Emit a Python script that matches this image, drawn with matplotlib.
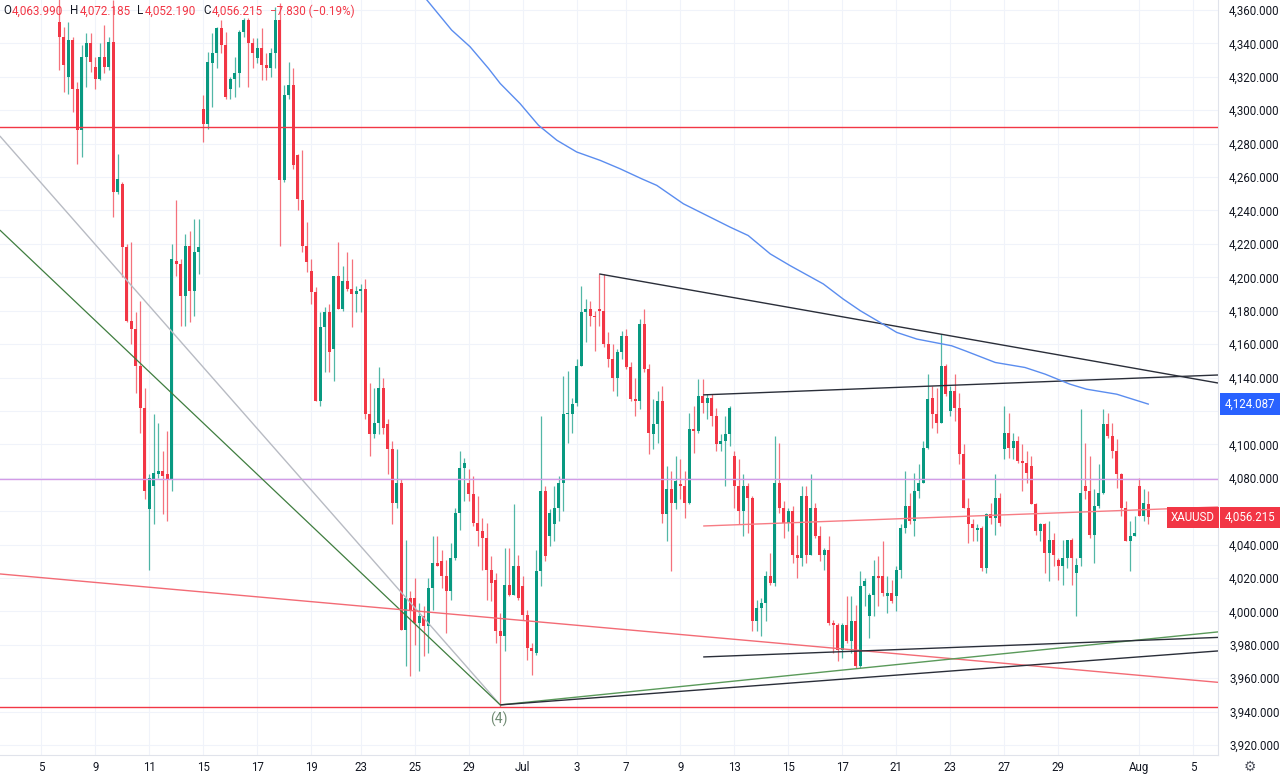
import matplotlib
matplotlib.use('Agg')
import matplotlib.pyplot as plt
import matplotlib.transforms as mtransforms
import numpy as np

plt.rcParams['font.family'] = ['Roboto', 'DejaVu Sans']

# 4h candles (index 0 = first visible bar)
opens = [4353, 4344, 4320, 4342, 4313, 4288, 4332, 4340, 4326, 4319, 4332, 4326, 4341, 4251, 4256, 4218,
         4174, 4169, 4147, 4122, 4061, 4075, 4082, 4084, 4082, 4079, 4210, 4208, 4189, 4219, 4192, 4215,
         4301, 4292, 4328, 4334, 4349, 4339, 4313, 4319, 4322, 4347, 4354, 4340, 4331, 4337, 4327, 4325,
         4334, 4354, 4258, 4309, 4315, 4273, 4246, 4219, 4204, 4191, 4126, 4170, 4179, 4157, 4201, 4181,
         4198, 4193, 4190, 4192, 4193, 4118, 4106, 4113, 4134, 4112, 4097, 4065, 4077, 3989, 4008, 4008,
         3993, 3997, 3991, 4014, 4029, 4030, 4021, 4012, 4032, 4059, 4086, 4077, 4070, 4053, 4048, 4044,
         4025, 4019, 3988, 3985, 4016, 4010, 4027, 4015, 3998, 3978, 3975, 4024, 4072, 4045, 4052, 4062,
         4077, 4118, 4118, 4125, 4147, 4179, 4181, 4177, 4181, 4180, 4160, 4151, 4140, 4155, 4165, 4146,
         4127, 4126, 4172, 4145, 4106, 4112, 4126, 4058, 4073, 4065, 4076, 4075, 4065, 4109, 4108, 4129,
         4125, 4128, 4117, 4100, 4102, 4106, 4093, 4075, 4060, 4075, 4068, 3994, 4002, 4005, 4021, 4017,
         4077, 4062, 4053, 4060, 4034, 4032, 4069, 4034, 4062, 4045, 4034, 4037, 3993, 3992, 3977, 3992,
         3982, 3994, 3967, 4015, 3997, 4010, 4021, 4021, 4009, 4011, 4009, 4025, 4050, 4063, 4054, 4072,
         4077, 4098, 4128, 4118, 4113, 4147, 4120, 4132, 4122, 4094, 4062, 4052, 4049, 4050, 4026, 4058,
         4056, 4068, 4097, 4107, 4098, 4102, 4090, 4089, 4087, 4064, 4048, 4052, 4035, 4043, 4031, 4027,
         4032, 4043, 4023, 4032, 4075, 4072, 4046, 4063, 4071, 4112, 4105, 4096, 4082, 4062, 4042, 4045,
         4075, 4057, 4063.99]
highs = [4370, 4350, 4353, 4344, 4317, 4339, 4346, 4346, 4332, 4340, 4351, 4344, 4366, 4274, 4257, 4220,
         4221, 4179, 4186, 4134, 4082, 4118, 4113, 4096, 4108, 4220, 4246, 4211, 4226, 4228, 4235, 4235,
         4309, 4335, 4346, 4350, 4354, 4347, 4320, 4332, 4348, 4355, 4355, 4343, 4343, 4349, 4334, 4337,
         4362, 4364, 4315, 4329, 4325, 4274, 4276, 4233, 4211, 4194, 4179, 4182, 4184, 4201, 4221, 4207,
         4215, 4211, 4195, 4196, 4199, 4137, 4134, 4146, 4140, 4115, 4102, 4097, 4079, 4043, 4012, 4020,
         4005, 4003, 4020, 4045, 4045, 4037, 4031, 4041, 4062, 4096, 4092, 4085, 4081, 4069, 4056, 4053,
         4033, 4023, 3999, 4038, 4038, 4064, 4034, 4021, 4001, 3981, 4037, 4117, 4075, 4061, 4075, 4081,
         4141, 4144, 4128, 4151, 4195, 4187, 4186, 4180, 4202, 4202, 4167, 4160, 4157, 4168, 4169, 4149,
         4140, 4175, 4181, 4148, 4127, 4132, 4135, 4087, 4084, 4093, 4091, 4084, 4119, 4123, 4139, 4139,
         4130, 4130, 4122, 4106, 4117, 4123, 4096, 4091, 4082, 4077, 4069, 4007, 4008, 4024, 4035, 4105,
         4101, 4066, 4062, 4063, 4046, 4075, 4075, 4082, 4065, 4051, 4038, 4045, 3995, 3993, 3993, 4009,
         4009, 4004, 4024, 4020, 4011, 4031, 4033, 4042, 4021, 4019, 4027, 4052, 4084, 4071, 4083, 4088,
         4102, 4142, 4135, 4134, 4166, 4148, 4135, 4142, 4131, 4100, 4068, 4055, 4052, 4051, 4059, 4065,
         4082, 4071, 4123, 4119, 4107, 4105, 4100, 4096, 4093, 4065, 4053, 4053, 4054, 4047, 4032, 4043,
         4043, 4044, 4032, 4121, 4101, 4093, 4073, 4088, 4121, 4119, 4113, 4103, 4083, 4066, 4054, 4057,
         4080, 4073, 4072.185]
lows = [4324, 4311, 4310, 4299, 4268, 4272, 4314, 4323, 4313, 4318, 4322, 4324, 4236, 4250, 4200, 4173,
        4160, 4131, 4107, 4067, 4025, 4052, 4080, 4058, 4054, 4072, 4201, 4171, 4171, 4173, 4177, 4202,
        4281, 4289, 4302, 4325, 4334, 4307, 4307, 4308, 4314, 4344, 4314, 4325, 4328, 4318, 4318, 4320,
        4325, 4219, 4257, 4307, 4265, 4240, 4215, 4203, 4184, 4126, 4123, 4143, 4143, 4138, 4181, 4180,
        4192, 4170, 4179, 4179, 4115, 4093, 4104, 4106, 4106, 4082, 4052, 4062, 3989, 3967, 3961, 3980,
        3964, 3973, 3975, 4001, 4027, 4014, 3987, 4007, 4031, 4049, 4066, 4066, 4051, 4039, 4025, 4007,
        4006, 3981, 3943, 3976, 4009, 4010, 4007, 3995, 3971, 3962, 3974, 4015, 4030, 4039, 4042, 4054,
        4060, 4101, 4107, 4123, 4147, 4161, 4171, 4156, 4171, 4158, 4146, 4132, 4129, 4151, 4145, 4126,
        4117, 4121, 4143, 4094, 4097, 4101, 4053, 4042, 4024, 4061, 4067, 4056, 4064, 4095, 4107, 4119,
        4115, 4111, 4096, 4096, 4075, 4099, 4062, 4052, 4045, 4047, 3988, 3988, 3985, 3994, 4016, 4015,
        4059, 4044, 4048, 4029, 4020, 4027, 4029, 4034, 4044, 4030, 4025, 3992, 3975, 3970, 3972, 3981,
        3975, 3966, 3966, 4003, 3984, 3997, 4003, 4009, 3999, 4005, 4000, 4020, 4047, 4052, 4045, 4068,
        4077, 4097, 4110, 4107, 4113, 4129, 4117, 4114, 4088, 4062, 4041, 4042, 4042, 4024, 4023, 4052,
        4046, 4051, 4091, 4092, 4091, 4089, 4072, 4077, 4064, 4046, 4042, 4023, 4018, 4027, 4019, 4016,
        4026, 4016, 3997, 4027, 4067, 4044, 4029, 4062, 4070, 4104, 4092, 4074, 4057, 4042, 4024, 4045,
        4057, 4054, 4052.19]
closes = [4344, 4327, 4342, 4313, 4288, 4332, 4340, 4329, 4319, 4332, 4326, 4341, 4251, 4259, 4218, 4174,
          4169, 4147, 4122, 4072, 4080, 4083, 4084, 4081, 4079, 4211, 4208, 4189, 4219, 4192, 4215, 4218,
          4292, 4329, 4334, 4349, 4339, 4308, 4319, 4322, 4347, 4354, 4340, 4334, 4337, 4327, 4325, 4334,
          4354, 4258, 4309, 4315, 4267, 4247, 4219, 4209, 4191, 4126, 4170, 4179, 4155, 4201, 4181, 4198,
          4193, 4190, 4192, 4193, 4118, 4106, 4113, 4134, 4110, 4097, 4065, 4077, 3989, 4008, 4000, 3993,
          3997, 3991, 4014, 4029, 4027, 4021, 4012, 4032, 4059, 4086, 4089, 4070, 4053, 4048, 4044, 4025,
          4017, 3988, 3985, 4016, 4010, 4027, 4008, 3998, 3978, 3976, 4024, 4072, 4033, 4059, 4062, 4077,
          4118, 4118, 4124, 4147, 4179, 4181, 4177, 4176, 4180, 4160, 4151, 4140, 4155, 4165, 4146, 4127,
          4126, 4172, 4145, 4107, 4112, 4126, 4058, 4073, 4065, 4078, 4075, 4065, 4109, 4108, 4129, 4125,
          4128, 4117, 4100, 4102, 4106, 4122, 4075, 4060, 4075, 4068, 3994, 4002, 4005, 4021, 4017, 4077,
          4062, 4053, 4060, 4034, 4032, 4069, 4034, 4062, 4045, 4034, 4037, 3993, 3992, 3977, 3992, 3982,
          3994, 3967, 4015, 4018, 4010, 4021, 4020, 4011, 4011, 4006, 4025, 4050, 4063, 4054, 4072, 4077,
          4098, 4127, 4118, 4113, 4147, 4130, 4132, 4122, 4094, 4062, 4052, 4050, 4050, 4026, 4058, 4056,
          4068, 4053, 4107, 4098, 4102, 4090, 4089, 4083, 4064, 4048, 4052, 4035, 4043, 4034, 4027, 4032,
          4043, 4032, 4028, 4071, 4072, 4046, 4063, 4071, 4112, 4105, 4096, 4082, 4062, 4042, 4045, 4047,
          4057, 4065, 4056.215]

# blue moving average, read at a few bars
ma_bar = [78, 81.7, 87.2, 91.3, 95.4, 98.0, 102.4, 106.5, 110.6, 115.0, 120.2, 124.6, 129.4, 132.8,
          138.7, 143.9, 149.1, 153.1, 158.0, 162.4, 169.8, 174.2, 178.0, 182.4, 186.1, 190.6, 198.3,
          201.3, 208.0, 214.6, 219.1, 224.6, 228.3, 235.0, 242]
ma_val = [4378, 4366, 4348, 4338, 4325, 4316, 4304, 4291, 4282, 4275, 4270, 4265, 4259, 4255,
          4244, 4237, 4230, 4225, 4214, 4207, 4196, 4187, 4180, 4173, 4167, 4163, 4159,
          4156, 4149, 4146, 4142, 4136, 4133, 4130, 4124.087]

# x axis day labels and the bar they sit on
day_labels = ['5', '9', '11', '15', '17', '19', '23', '25', '29', 'Jul', '3', '7', '9', '13', '15',
              '17', '21', '23', '27', '29', 'Aug', '5']
day_bars = [-4, 8, 20, 32, 44, 56, 67, 79, 91, 103, 115, 126, 138, 150, 162, 174, 186, 198, 210,
            222, 240, 252]

# horizontal levels
hlines = [(4290, '#f23645'), (4079, '#d39be6'), (3942.5, '#f23645')]

# drawn trend lines: (bar0, price0, bar1, price1, colour, width)
trendlines = [
    (-13.2, 4284.6, 98, 3944, '#b8bbc3', 1.0),
    (-13.2, 4228.3, 98, 3944, '#3f7d3f', 0.9),
    (-13.2, 4022.4, 257.5, 3957.5, '#f36b75', 1.0),
    (98, 3944, 257.5, 3987.7, '#5a9a5a', 1.0),
    (98, 3944, 257.5, 3976.3, '#2a2e39', 1.0),
    (143.1, 3972.7, 257.5, 3984.4, '#2a2e39', 1.0),
    (120, 4202, 257.5, 4136.7, '#2a2e39', 1.0),
    (143.1, 4129.6, 257.5, 4141.5, '#2a2e39', 1.0),
    (143.1, 4051.1, 257.5, 4062.5, '#f77c84', 1.0),
]

up_col = '#089981'
dn_col = '#f23645'
text_col = '#131722'

fig = plt.figure(figsize=(12.8, 7.78), dpi=100)
ax = fig.add_axes([0, 23 / 778, 1218 / 1280, 755 / 778])
ax.set_xlim(-13.16, 257.5)
ax.set_ylim(3914.0, 4366.0)

o = np.array(opens)
h = np.array(highs)
l = np.array(lows)
c = np.array(closes)
x = np.arange(len(o))
up = c >= o
cols = np.where(up, up_col, dn_col)

ax.vlines(x, l, h, colors=cols, linewidth=0.9, alpha=0.7, zorder=2)
body_low = np.minimum(o, c)
body_h = np.maximum(np.abs(c - o), 0.8)
ax.bar(x, body_h, bottom=body_low, width=0.66, color=cols, linewidth=0, zorder=2.5)

for lvl, col in hlines:
    ax.axhline(lvl, color=col, linewidth=1.0, zorder=3)

for b0, p0, b1, p1, col, lw in trendlines:
    ax.plot([b0, b1], [p0, p1], color=col, linewidth=lw, zorder=3, solid_capstyle='butt')

ax.plot(ma_bar, ma_val, color='#5b8def', linewidth=1.0, zorder=3)

ax.text(97.8, 3935.5, '(4)', color='#6f8a72', fontsize=10, ha='center', va='center', zorder=4)

# price scale tags
tags = [(ma_val[-1], '#2962ff'), (closes[-1], dn_col)]


def price_fmt(v, pos):
    # the coloured tags cover the scale labels next to them
    for tv, _ in tags:
        if abs(v - tv) < 9:
            return ''
    return f'{v:,.3f}'


# grid and axes
ax.set_yticks(np.arange(3920, 4361, 20))
ax.yaxis.tick_right()
ax.yaxis.set_major_formatter(matplotlib.ticker.FuncFormatter(price_fmt))
ax.set_xticks(day_bars)
ax.set_xticklabels(day_labels)
ax.tick_params(axis='y', length=0, pad=8, labelsize=8.3, labelcolor=text_col)
ax.tick_params(axis='x', length=0, pad=4, labelsize=8.3, labelcolor=text_col)
ax.grid(True, color='#f0f3fa', linewidth=0.8, zorder=0)
ax.set_axisbelow(True)
for side in ['left', 'top']:
    ax.spines[side].set_visible(False)
for side in ['right', 'bottom']:
    ax.spines[side].set_color('#e0e3eb')
    ax.spines[side].set_linewidth(0.8)

tr = mtransforms.blended_transform_factory(ax.transAxes, ax.transData)
for tv, tc in tags:
    ax.text(1.0055, tv, f'{tv:,.3f}', transform=tr, color='white', fontsize=8.3,
            ha='left', va='center', zorder=6, clip_on=False,
            bbox=dict(boxstyle='square,pad=0.38', fc=tc, ec='none'))
ax.text(0.9975, closes[-1], 'XAUUSD', transform=tr, color='white', fontsize=8.3,
        ha='right', va='center', zorder=6,
        bbox=dict(boxstyle='square,pad=0.38', fc=dn_col, ec='none'))

# OHLC legend at top left, pieces laid out one after another
legend_parts = [
    ('O', text_col, 0), (f'{opens[-1]:,.3f}', dn_col, 6),
    ('H', text_col, 0), (f'{highs[-1]:,.3f}', dn_col, 6),
    ('L', text_col, 0), (f'{lows[-1]:,.3f}', dn_col, 6),
    ('C', text_col, 0), (f'{closes[-1]:,.3f}', dn_col, 6),
    ('\u22127.830 (\u22120.19%)', dn_col, 0),
]
fig.canvas.draw()
renderer = fig.canvas.get_renderer()
px = 3
for s, col, gap in legend_parts:
    t = fig.text(px / 1280, 1 - 11 / 778, s, color=col, fontsize=8.4, ha='left', va='center')
    px += t.get_window_extent(renderer).width + 1 + gap

fig.text(1250 / 1280, 1 - 767 / 778, '\u2699', color='#50535e', fontsize=10, ha='center', va='center',
         family='DejaVu Sans')

fig.savefig('out.png', dpi=100, facecolor='white')
